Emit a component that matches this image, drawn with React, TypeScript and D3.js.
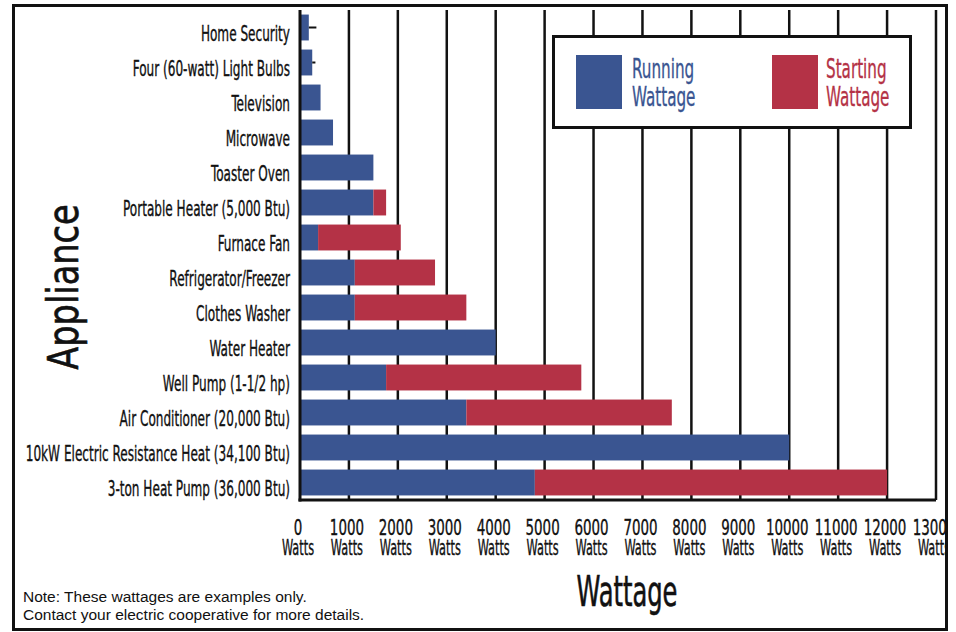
import React from 'react';
import * as d3 from 'd3';

// appliance names, top to bottom
const appliances = [
  'Home Security',
  'Four (60-watt) Light Bulbs',
  'Television',
  'Microwave',
  'Toaster Oven',
  'Portable Heater (5,000 Btu)',
  'Furnace Fan',
  'Refrigerator/Freezer',
  'Clothes Washer',
  'Water Heater',
  'Well Pump (1-1/2 hp)',
  'Air Conditioner (20,000 Btu)',
  '10kW Electric Resistance Heat (34,100 Btu)',
  '3-ton Heat Pump (36,000 Btu)',
];

// watts
const runningWatts = [180, 250, 420, 675, 1500, 1500, 370, 1120, 1120, 4000, 1760, 3400, 10000, 4800];
const startingWatts = [0, 0, 0, 0, 0, 1760, 2060, 2760, 3400, 0, 5750, 7600, 0, 12000];
// thin black surge marks on the two smallest loads
const surgeMarks = [335, 315, 0, 0, 0, 0, 0, 0, 0, 0, 0, 0, 0, 0];

const tickValues = [0, 1000, 2000, 3000, 4000, 5000, 6000, 7000, 8000, 9000, 10000, 11000, 12000, 13000];

const BLUE = '#3a5591';
const RED = '#b43246';
const NARROW = '"DejaVu Sans Condensed", "DejaVu Sans", sans-serif';

const W = 956;
const H = 632;

const CText = ({ x, y, sx = 1, anchor = 'start', size, fill = '#111', rotate = 0, family = NARROW, bold = 0.35, children }) => (
  <text
    transform={`translate(${x},${y}) rotate(${rotate}) scale(${sx},1)`}
    textAnchor={anchor}
    fontSize={size}
    fontFamily={family}
    fill={fill}
    stroke={bold ? fill : 'none'}
    strokeWidth={bold}
  >
    {children}
  </text>
);

export default function App() {
  const x = d3.scaleLinear().domain([0, 13000]).range([300, 936]);
  const y = d3.scaleBand().domain(appliances).range([10, 500]).paddingInner(0.26).paddingOuter(0.13);
  const bw = y.bandwidth();

  return (
    <svg width={W} height={H} style={{ position: 'absolute', left: 0, top: 0, background: '#fff' }}>
      <defs>
        <clipPath id="frame-clip">
          <rect x={15} y={7} width={930} height={621} />
        </clipPath>
      </defs>

      {/* grid lines */}
      {tickValues.slice(1).map(t => (
        <line key={t} x1={x(t)} x2={x(t)} y1={10} y2={500} stroke="#111" strokeWidth={2.5} />
      ))}

      {/* bars */}
      {appliances.map((a, i) => (
        <g key={a}>
          <rect x={x(0)} y={y(a)} width={x(runningWatts[i]) - x(0)} height={bw} fill={BLUE} />
          {startingWatts[i] > runningWatts[i] && (
            <rect x={x(runningWatts[i])} y={y(a)} width={x(startingWatts[i]) - x(runningWatts[i])} height={bw} fill={RED} />
          )}
          {surgeMarks[i] > 0 && (
            <line x1={x(runningWatts[i])} x2={x(surgeMarks[i])} y1={y(a) + bw / 2} y2={y(a) + bw / 2} stroke="#111" strokeWidth={2} />
          )}
          <CText x={290} y={y(a) + bw / 2 + 13} sx={0.64} anchor="end" size={21}>{a}</CText>
        </g>
      ))}

      {/* axis lines */}
      <line x1={x(0)} x2={x(0)} y1={10} y2={501.5} stroke="#111" strokeWidth={3} />
      <line x1={x(0) - 1.5} x2={x(13000)} y1={500} y2={500} stroke="#111" strokeWidth={3} />

      {/* tick labels */}
      <g clipPath="url(#frame-clip)">
        {tickValues.map(t => (
          <g key={t}>
            <CText x={x(t) - 2} y={535} sx={0.71} anchor="middle" size={21}>{t}</CText>
            <CText x={x(t) - 2} y={555} sx={0.6} anchor="middle" size={21}>Watts</CText>
          </g>
        ))}
      </g>

      {/* axis titles */}
      <CText x={627} y={606} sx={0.64} anchor="middle" size={42} bold={0.6}>Wattage</CText>
      <CText x={78} y={287} sx={0.89} anchor="middle" size={42} rotate={-90} bold={0.6}>Appliance</CText>

      {/* legend */}
      <rect x={553.5} y={36.5} width={357} height={91} fill="#fff" stroke="#111" strokeWidth={3} />
      <rect x={576} y={55} width={46} height={54} fill={BLUE} />
      <CText x={632} y={78} sx={0.65} size={26} fill={BLUE} bold={0.3}>Running</CText>
      <CText x={632} y={106} sx={0.65} size={26} fill={BLUE} bold={0.3}>Wattage</CText>
      <rect x={772} y={55} width={46} height={54} fill={RED} />
      <CText x={826} y={78} sx={0.65} size={26} fill={RED} bold={0.3}>Starting</CText>
      <CText x={826} y={106} sx={0.65} size={26} fill={RED} bold={0.3}>Wattage</CText>

      {/* note */}
      <CText x={23} y={602} size={15.5} bold={0} family='"Liberation Sans", Arial, sans-serif'>Note: These wattages are examples only.</CText>
      <CText x={23} y={620} size={15.5} bold={0} family='"Liberation Sans", Arial, sans-serif'>Contact your electric cooperative for more details.</CText>

      {/* outer frame */}
      <rect x={13.5} y={5.5} width={933} height={624} fill="none" stroke="#111" strokeWidth={3} />
    </svg>
  );
}
